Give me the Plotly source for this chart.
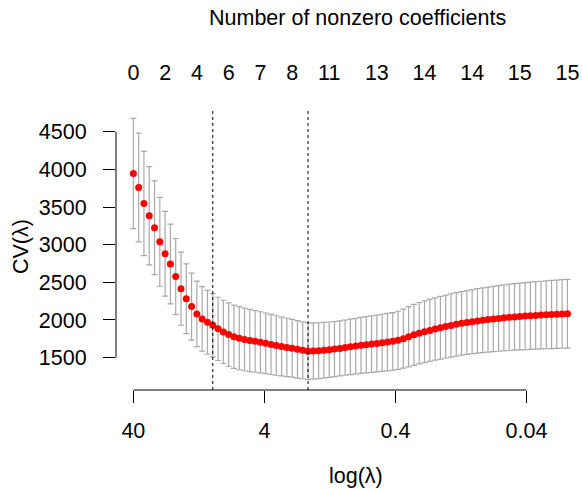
import numpy as np
import plotly.graph_objects as go

# lambda grid (glmnet path)
lambdas = [40, 36.447, 33.209, 30.259, 27.571, 25.121, 22.890, 20.856, 19.003, 17.315,
           15.777, 14.375, 13.098, 11.935, 10.875, 9.9085, 9.0283, 8.2262, 7.4955, 6.8296,
           6.2229, 5.6700, 5.1663, 4.7074, 4.2892, 3.9082, 3.5610, 3.2446, 2.9564, 2.6938,
           2.4544, 2.2364, 2.0378, 1.8567, 1.6918, 1.5415, 1.4045, 1.2798, 1.1661, 1.0625,
           0.96810, 0.88210, 0.80374, 0.73234, 0.66728, 0.60800, 0.55399, 0.50477, 0.45993, 0.41907,
           0.38184, 0.34792, 0.31701, 0.28885, 0.26319, 0.23981, 0.21851, 0.19909, 0.18141, 0.16529,
           0.15061, 0.13723, 0.12504, 0.11393, 0.10381, 0.094586, 0.086183, 0.078527, 0.071551, 0.065195,
           0.059403, 0.054126, 0.049318, 0.044937, 0.040944, 0.037307, 0.033993, 0.030973, 0.028221, 0.025714,
           0.023430, 0.021348, 0.019452]

cv_mean = [3944, 3758, 3546, 3383, 3224, 3038, 2880, 2743, 2577, 2415,
           2282, 2178, 2080, 2014, 1969, 1930, 1882, 1842, 1806, 1778,
           1758, 1742, 1728, 1716, 1703, 1690, 1675, 1661, 1648, 1636,
           1624, 1610, 1598, 1585, 1588, 1592, 1598, 1606, 1614, 1623,
           1633, 1643, 1653, 1663, 1672, 1680, 1688, 1697, 1706, 1716,
           1730, 1752, 1778, 1803, 1824, 1843, 1862, 1880, 1897, 1913,
           1928, 1942, 1955, 1967, 1978, 1988, 1997, 2005, 2013, 2021,
           2028, 2035, 2041, 2047, 2052, 2057, 2061, 2065, 2069, 2073,
           2076, 2080, 2083]

cv_se = [732, 722, 692, 652, 623, 590, 562, 530, 505, 485,
         462, 445, 435, 428, 424, 421, 420, 420, 420, 420,
         419, 416, 413, 410, 406, 403, 399, 395, 391, 387,
         384, 381, 378, 376, 373, 371, 369, 367, 366, 366,
         367, 368, 369, 371, 373, 375, 377, 379, 381, 383,
         386, 392, 400, 405, 408, 410, 412, 414, 416, 418,
         420, 421, 422, 424, 426, 428, 430, 432, 434, 436,
         438, 440, 442, 443, 445, 446, 448, 449, 451, 452,
         454, 455, 457]

# number of nonzero coefficients shown on the top axis
nz_index = [0, 6, 12, 18, 24, 30, 37, 46, 55, 64, 73, 82]
nz_labels = ["0", "2", "4", "6", "7", "8", "11", "13", "14", "14", "15", "15"]

lambda_1se = lambdas[15]
lambda_min = lambdas[33]

bottom_ticks = [40, 4, 0.4, 0.04]
bottom_ticktext = ["40", "4", "0.4", "0.04"]
y_ticks = [1500, 2000, 2500, 3000, 3500, 4000, 4500]

logl = np.log10(np.array(lambdas))
mean = np.array(cv_mean, dtype=float)
se = np.array(cv_se, dtype=float)

W, H = 582, 489
L, R, T = 116, 0, 108
plot_bottom = 390
B = H - plot_bottom
plotw = W - L - R
ploth = plot_bottom - T

# R-like 4% extension of data ranges
xspan = logl[0] - logl[-1]
x_left = logl[0] + 0.04 * xspan
ext_w = xspan * 1.08
x_right = x_left - ext_w * (plotw / 468.8)
ylo, yhi = (mean - se).min(), (mean + se).max()
yspan = yhi - ylo
y_range = [ylo - 0.04 * yspan, yhi + 0.04 * yspan]

FONT = "Liberation Sans, Arial, sans-serif"
FS = 21.5


def px_x(page_x):
    return (page_x - L) / plotw


def px_y(page_y):
    return (plot_bottom - page_y) / ploth


fig = go.Figure()
fig.add_trace(go.Scatter(
    x=logl, y=mean, mode="markers",
    marker=dict(color="red", size=7, line=dict(width=0)),
    error_y=dict(type="data", array=se, symmetric=True, color="#A9A9A9",
                 thickness=1.2, width=3),
    showlegend=False, hoverinfo="skip"))
fig.add_trace(go.Scatter(
    x=[logl[i] for i in nz_index], y=[mean[i] for i in nz_index],
    xaxis="x2", mode="markers", marker=dict(opacity=0),
    showlegend=False, hoverinfo="skip"))

for lv in [lambda_1se, lambda_min]:
    fig.add_shape(type="line", xref="x", yref="paper",
                  x0=np.log10(lv), x1=np.log10(lv), y0=0, y1=1,
                  line=dict(color="black", width=1, dash="dot"))

# R-style axis lines spanning only the tick range
fig.add_shape(type="line", xref="paper", yref="y", x0=0, x1=0,
              y0=min(y_ticks), y1=max(y_ticks), line=dict(color="black", width=1))
fig.add_shape(type="line", xref="x", yref="paper",
              x0=np.log10(max(bottom_ticks)), x1=np.log10(min(bottom_ticks)),
              y0=0, y1=0, line=dict(color="black", width=1))

fig.update_layout(
    width=W, height=H,
    margin=dict(l=L, r=R, t=T, b=B, pad=0),
    plot_bgcolor="white", paper_bgcolor="white",
    font=dict(family=FONT, size=FS, color="black"),
    xaxis=dict(range=[x_left, x_right], showgrid=False, zeroline=False, showline=False,
               tickmode="array", tickvals=np.log10(bottom_ticks).tolist(),
               ticktext=bottom_ticktext, ticks="outside", ticklen=12, tickwidth=1,
               tickcolor="black", ticklabelstandoff=9, tickfont=dict(size=FS)),
    xaxis2=dict(range=[x_left, x_right], overlaying="x", side="top", anchor="y",
                showgrid=False, zeroline=False, showline=False,
                tickmode="array", tickvals=[logl[i] for i in nz_index],
                ticktext=nz_labels, ticks="", ticklabelstandoff=23,
                ticklabeloverflow="allow", tickfont=dict(size=FS)),
    yaxis=dict(range=y_range, showgrid=False, zeroline=False, showline=False,
               tickmode="array", tickvals=y_ticks, ticktext=[str(v) for v in y_ticks],
               ticks="outside", ticklen=12, tickwidth=1, tickcolor="black",
               ticklabelstandoff=12, tickfont=dict(size=FS)),
    annotations=[
        dict(text="Number of nonzero coefficients", xref="paper", yref="paper",
             x=px_x(357), y=px_y(18), showarrow=False,
             xanchor="center", yanchor="middle", font=dict(size=FS)),
        dict(text="log(λ)", xref="paper", yref="paper",
             x=px_x(356), y=px_y(476), showarrow=False,
             xanchor="center", yanchor="middle", font=dict(size=FS)),
        dict(text="CV(λ)", xref="paper", yref="paper",
             x=px_x(21), y=px_y(247), showarrow=False, textangle=-90,
             xanchor="center", yanchor="middle", font=dict(size=FS)),
    ],
)

fig.write_html("out.html",
               config={"displayModeBar": False, "staticPlot": True},
               post_script="document.body.style.margin='0';document.body.style.overflow='hidden';")
